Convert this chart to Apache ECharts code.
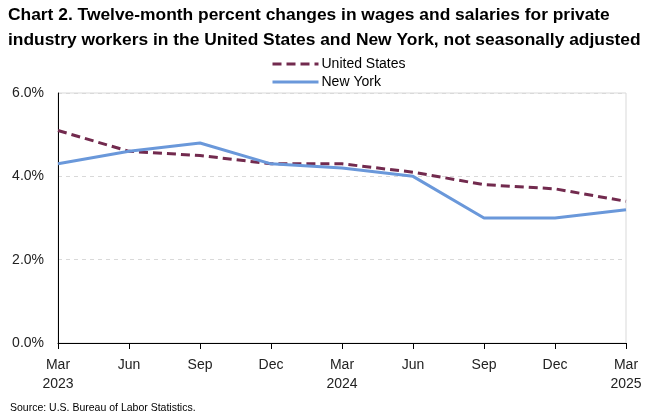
<!DOCTYPE html>
<html><head><meta charset="utf-8">
<script src="https://cdn.jsdelivr.net/npm/echarts@6/dist/echarts.min.js"></script>
<style>html,body{margin:0;padding:0;background:#fff}#c{width:667px;height:413px}</style>
</head><body><div id="c"></div>
<script>
const categories = ['Mar\n2023','Jun','Sep','Dec','Mar\n2024','Jun','Sep','Dec','Mar\n2025'];
const unitedStates = [5.1, 4.6, 4.5, 4.3, 4.3, 4.1, 3.8, 3.7, 3.4];
const newYork = [4.3, 4.6, 4.8, 4.3, 4.2, 4.0, 3.0, 3.0, 3.2];
const yTicks = [0, 2, 4, 6];

const chart = echarts.init(document.getElementById('c'), null, {renderer: 'canvas'});
const font = 'Liberation Sans, Arial, sans-serif';
chart.setOption({
  animation: false,
  title: [{
    text: 'Chart 2. Twelve-month percent changes in wages and salaries for private\nindustry workers in the United States and New York, not seasonally adjusted',
    left: 3, top: -2,
    textStyle: {fontFamily: font, fontWeight: 'bold', fontSize: 17.4, color: '#000', lineHeight: 25}
  }, {
    text: 'Source: U.S. Bureau of Labor Statistics.',
    left: 5, top: 398,
    textStyle: {fontFamily: font, fontWeight: 'normal', fontSize: 10.5, color: '#000'}
  }],
  legend: {
    orient: 'vertical', left: 266, top: 52, itemGap: 4, itemWidth: 46, itemHeight: 14,
    textStyle: {fontFamily: font, fontSize: 14, color: '#000', padding: [0, 0, 0, -2]},
    itemStyle: {opacity: 0},
    lineStyle: {width: 3},
    data: ['United States', 'New York']
  },
  grid: {left: 58, right: 41, top: 93, bottom: 70, show: true, borderColor: '#d9d9d9', borderWidth: 1},
  xAxis: {
    type: 'category', data: categories, boundaryGap: false,
    axisLine: {lineStyle: {color: '#000', width: 1}},
    axisTick: {show: true, length: 6, alignWithLabel: true, lineStyle: {color: '#000'}},
    axisLabel: {fontFamily: font, fontSize: 14, color: '#222', margin: 13, lineHeight: 19, interval: 0},
    splitLine: {show: false}
  },
  yAxis: {
    type: 'value', min: 0, max: 6, interval: 2,
    axisLine: {show: true, lineStyle: {color: '#000', width: 1}},
    axisTick: {show: false},
    axisLabel: {fontFamily: font, fontSize: 14, color: '#222', margin: 14, formatter: v => v.toFixed(1) + '%'},
    splitLine: {show: true, lineStyle: {color: '#d9d9d9', type: [4, 4], width: 1}}
  },
  series: [{
    name: 'United States', type: 'line', data: unitedStates, symbol: 'none',
    lineStyle: {color: '#722a4e', width: 3, type: [9, 5]}, itemStyle: {color: '#722a4e'}
  }, {
    name: 'New York', type: 'line', data: newYork, symbol: 'none',
    lineStyle: {color: '#6a98da', width: 3}, itemStyle: {color: '#6a98da'}
  }]
});
</script></body></html>
